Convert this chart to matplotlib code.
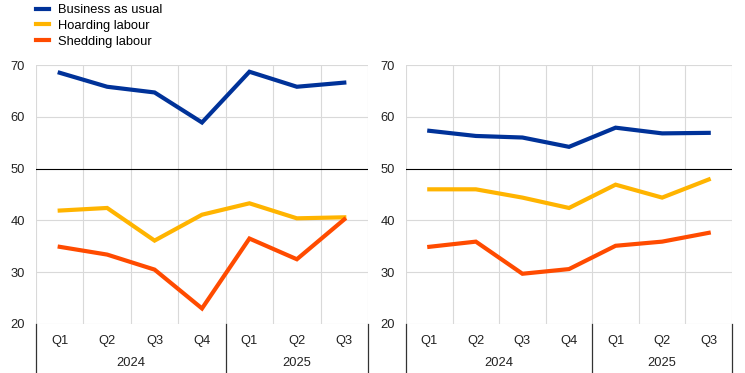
import matplotlib
matplotlib.use("Agg")
import matplotlib.pyplot as plt
from matplotlib.lines import Line2D
import matplotlib.transforms as mtransforms

plt.rcParams['font.family'] = ['Liberation Sans', 'DejaVu Sans']
FS = 9.3
plt.rcParams['font.size'] = FS

quarters = ["Q1", "Q2", "Q3", "Q4", "Q1", "Q2", "Q3"]
years = ["2024", "2025"]
year_spans = [(0, 4), (4, 7)]

series_names = ["Business as usual", "Hoarding labour", "Shedding labour"]
colors = ["#003299", "#FFB400", "#FF4B00"]

left_business = [68.5, 65.8, 64.7, 58.9, 68.7, 65.8, 66.6]
left_hoarding = [41.9, 42.4, 36.1, 41.1, 43.3, 40.4, 40.6]
left_shedding = [34.9, 33.4, 30.5, 23.0, 36.5, 32.5, 40.2]

right_business = [57.3, 56.3, 56.0, 54.2, 57.9, 56.8, 56.9]
right_hoarding = [46.0, 46.0, 44.4, 42.4, 46.9, 44.4, 47.9]
right_shedding = [34.9, 35.9, 29.7, 30.6, 35.1, 35.9, 37.6]

W, H = 745, 373
fig = plt.figure(figsize=(W / 100, H / 100), dpi=100)

def px_axes(x0, x1, ytop, ybot):
    return fig.add_axes([x0 / W, (H - ybot) / H, (x1 - x0) / W, (ybot - ytop) / H])

ax_l = px_axes(36, 368, 65, 324)
ax_r = px_axes(406, 732, 65, 324)

for ax, data in [(ax_l, [left_business, left_hoarding, left_shedding]),
                 (ax_r, [right_business, right_hoarding, right_shedding])]:
    x = list(range(len(quarters)))
    for vals, c in zip(data, colors):
        ax.plot(x, vals, color=c, lw=3.0, solid_joinstyle='miter', zorder=3)
    ax.set_xlim(-0.5, len(quarters) - 0.5)
    ax.set_ylim(20, 70)
    ax.set_yticks([20, 30, 40, 50, 60, 70])
    ax.tick_params(axis='y', length=0, pad=8, labelsize=FS, colors='#222222')
    ax.set_xticks([])
    for s in ax.spines.values():
        s.set_visible(False)
    for yv in [20, 30, 40, 60, 70]:
        ax.axhline(yv, color='#d9d9d9', lw=0.8, zorder=1)
    ax.axhline(50, color='black', lw=0.8, zorder=2)
    for xb in [i - 0.5 for i in range(len(quarters) + 1)]:
        ax.axvline(xb, color='#d9d9d9', lw=0.8, zorder=1)
    trans = mtransforms.blended_transform_factory(ax.transData, ax.transAxes)
    ext = -(373 - 324) / (324 - 65)
    for xb in [-0.5, 3.5, 6.5]:
        ax.add_line(Line2D([xb, xb], [0, ext], transform=trans, color='#333333',
                           lw=0.9, clip_on=False))
    qy = -(341 - 324) / (324 - 65)
    yy = -(363 - 324) / (324 - 65)
    for i, q in enumerate(quarters):
        ax.text(i, qy, q, transform=trans, ha='center', va='center', fontsize=FS,
                color='#222222')
    for (a, b), yr in zip(year_spans, years):
        ax.text((a + b - 1) / 2, yy, yr, transform=trans, ha='center', va='center',
                fontsize=FS, color='#222222')

handles = [Line2D([0], [0], color=c, lw=3.0) for c in colors]
fig.legend(handles, series_names, loc='upper left', bbox_to_anchor=(27 / W, 1 + 5 / H),
           frameon=False, handlelength=1.0, handletextpad=0.7, labelspacing=0.3,
           fontsize=FS, borderpad=0.2)

fig.savefig("out.png", dpi=100)
